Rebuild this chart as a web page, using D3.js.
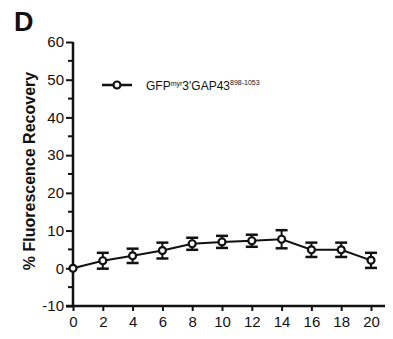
<!DOCTYPE html>
<meta charset="utf-8">
<head>
<script src="https://d3js.org/d3.v7.min.js"></script>
<style>
  body { margin: 0; background: #fff; }
  text { font-family: "Liberation Sans", Arial, sans-serif; fill: #111; }
</style>
</head>
<body>
<div id="chart"></div>
<script>

// data
var times = [0, 2, 4, 6, 8, 10, 12, 14, 16, 18, 20];
var recovery = [0, 2.0, 3.3, 4.7, 6.5, 7.0, 7.3, 7.7, 4.9, 4.9, 2.1];
var errors = [0, 2.1, 1.9, 2.1, 1.6, 1.6, 1.6, 2.4, 1.9, 1.9, 2.0];
var xTicks = [0, 2, 4, 6, 8, 10, 12, 14, 16, 18, 20];
var yTicks = [-10, 0, 10, 20, 30, 40, 50, 60];
var yMinorTicks = [-5, 5, 15, 25, 35, 45, 55];

var W = 393, H = 339;
var svg = d3.select("#chart").append("svg")
    .attr("width", W)
    .attr("height", H);

var x = d3.scaleLinear().domain([0, 20]).range([73, 371]);
var y = d3.scaleLinear().domain([-10, 60]).range([306, 42]);

// panel letter
svg.append("text")
    .attr("x", 14)
    .attr("y", 31)
    .style("font-size", "27px")
    .style("font-weight", "bold")
    .text("D");

// y axis
var yAxis = svg.append("g")
    .attr("transform", "translate(73,0)")
    .call(d3.axisLeft(y).tickValues(yTicks).tickSize(7).tickPadding(2).tickFormat(function(d) { return String(d); }));
yAxis.select(".domain").attr("stroke", "#111").attr("stroke-width", 2.5)
    .attr("d", "M0," + y(-10) + "V" + y(60));
yAxis.selectAll(".tick line").attr("stroke", "#111").attr("stroke-width", 2);
yAxis.selectAll(".tick text").style("font-size", "15px").attr("fill", "#111");

yAxis.selectAll(".minor")
    .data(yMinorTicks)
    .enter()
    .append("line")
    .attr("x1", -5).attr("x2", 0)
    .attr("y1", function(d) { return y(d); })
    .attr("y2", function(d) { return y(d); })
    .attr("stroke", "#111")
    .attr("stroke-width", 2);

// x axis
var xAxis = svg.append("g")
    .attr("transform", "translate(0," + y(-10) + ")")
    .call(d3.axisBottom(x).tickValues(xTicks).tickSize(5).tickPadding(5).tickFormat(function(d) { return String(d); }));
xAxis.select(".domain").attr("stroke", "#111").attr("stroke-width", 2.5)
    .attr("d", "M66,0H385");
xAxis.selectAll(".tick line").attr("stroke", "#111").attr("stroke-width", 2);
xAxis.selectAll(".tick text").style("font-size", "15px").attr("fill", "#111");

// y label
svg.append("text")
    .attr("transform", "translate(35," + 171 + ") rotate(-90)")
    .attr("text-anchor", "middle")
    .style("font-size", "16px")
    .style("font-weight", "bold")
    .text("% Fluorescence Recovery");

var pts = times.map(function(t, i) { return {t: t, v: recovery[i], e: errors[i]}; });

// error bars
var eb = svg.append("g").selectAll("g")
    .data(pts.filter(function(d) { return d.e > 0; }))
    .enter().append("g")
    .attr("stroke", "#111")
    .attr("stroke-width", 2);
eb.append("line")
    .attr("x1", function(d) { return x(d.t); })
    .attr("x2", function(d) { return x(d.t); })
    .attr("y1", function(d) { return y(d.v - d.e); })
    .attr("y2", function(d) { return y(d.v + d.e); });
eb.append("line")
    .attr("x1", function(d) { return x(d.t) - 6; })
    .attr("x2", function(d) { return x(d.t) + 6; })
    .attr("y1", function(d) { return y(d.v + d.e); })
    .attr("y2", function(d) { return y(d.v + d.e); })
    .attr("stroke-width", 2.5);
eb.append("line")
    .attr("x1", function(d) { return x(d.t) - 6; })
    .attr("x2", function(d) { return x(d.t) + 6; })
    .attr("y1", function(d) { return y(d.v - d.e); })
    .attr("y2", function(d) { return y(d.v - d.e); })
    .attr("stroke-width", 2.5);

// line
svg.append("path")
    .datum(pts)
    .attr("fill", "none")
    .attr("stroke", "#111")
    .attr("stroke-width", 2)
    .attr("d", d3.line().x(function(d) { return x(d.t); }).y(function(d) { return y(d.v); }));

// points
svg.append("g").selectAll("circle")
    .data(pts)
    .enter().append("circle")
    .attr("cx", function(d) { return x(d.t); })
    .attr("cy", function(d) { return y(d.v); })
    .attr("r", 3.5)
    .attr("fill", "#fff")
    .attr("stroke", "#111")
    .attr("stroke-width", 2.2);

// legend
var lg = svg.append("g");
lg.append("line")
    .attr("x1", 102).attr("x2", 132)
    .attr("y1", 85).attr("y2", 85)
    .attr("stroke", "#111").attr("stroke-width", 2.5);
lg.append("circle")
    .attr("cx", 117).attr("cy", 85).attr("r", 3.5)
    .attr("fill", "#fff").attr("stroke", "#111").attr("stroke-width", 2.2);
var lt = lg.append("text")
    .attr("x", 146)
    .attr("y", 90)
    .style("font-size", "12px");
lt.append("tspan").text("GFP");
lt.append("tspan").attr("dy", -4).style("font-size", "7px").text("myr");
lt.append("tspan").attr("dy", 4).text("3'GAP43");
lt.append("tspan").attr("dy", -5).style("font-size", "7px").text("898-1053");

</script>
</body>
